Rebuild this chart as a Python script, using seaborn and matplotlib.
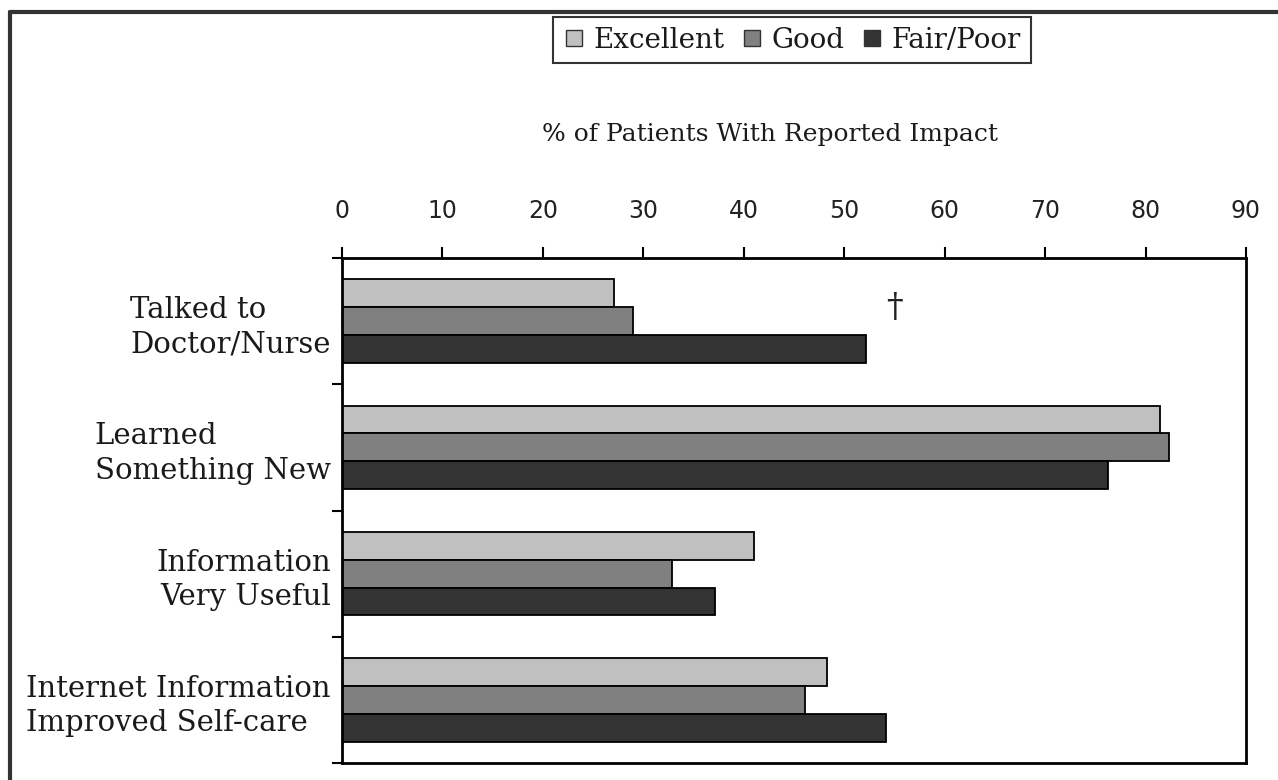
import matplotlib
matplotlib.use("Agg")
import matplotlib.pyplot as plt
import seaborn as sns
import pandas as pd
from matplotlib.lines import Line2D

categories = ["Talked to\nDoctor/Nurse", "Learned\nSomething New",
              "Information\nVery Useful", "Internet Information\nImproved Self-care"]
groups = ["Excellent", "Good", "Fair/Poor"]
excellent = [27.1, 81.4, 41.0, 48.3]
good = [29.0, 82.3, 32.9, 46.1]
fair_poor = [52.2, 76.3, 37.1, 54.2]
x_ticks = [0, 10, 20, 30, 40, 50, 60, 70, 80, 90]
axis_title = "% of Patients With Reported Impact"

colors = {"Excellent": "#c0c0c0", "Good": "#808080", "Fair/Poor": "#333333"}

rows = []
for g, vals in zip(groups, [excellent, good, fair_poor]):
    for c, v in zip(categories, vals):
        rows.append({"Category": c, "Group": g, "Value": v})
df = pd.DataFrame(rows)

sns.set_theme(style="white")
plt.rcParams["font.family"] = ["DejaVu Serif"]

W, H = 1278, 780
fig = plt.figure(figsize=(W / 100, H / 100), dpi=100)
fig.patch.set_facecolor("white")
ax = fig.add_axes([342 / W, 1 - 763 / H, (1246 - 342) / W, (763 - 258) / H])

sns.barplot(data=df, y="Category", x="Value", hue="Group", order=categories,
            hue_order=groups, palette=colors, orient="h", width=0.66,
            edgecolor="black", linewidth=1.3, saturation=1, ax=ax, legend=False)

ax.set_xlim(0, 90)
ax.set_ylim(3.5, -0.5)
ax.set_xlabel("")
ax.set_ylabel("")
ax.xaxis.tick_top()
ax.set_xticks(x_ticks)
ax.set_xticklabels([str(t) for t in x_ticks], fontsize=17, family="DejaVu Sans",
                   color="#222222")
ax.tick_params(axis="x", direction="out", length=8, width=1.5, pad=17, color="black",
               top=True, bottom=False)
ax.set_yticks(range(len(categories)))
ax.set_yticklabels(categories, fontsize=21, color="#1a1a1a", linespacing=1.3)
ax.set_yticks([-0.5, 0.5, 1.5, 2.5, 3.5], minor=True)
ax.tick_params(axis="y", which="major", length=0, pad=8)
ax.tick_params(axis="y", which="minor", length=7, width=1.5, color="black", left=True)
aligns = ["left", "left", "right", "left"]
for lab, al in zip(ax.get_yticklabels(), aligns):
    lab.set_multialignment(al)

for s in ax.spines.values():
    s.set_visible(True)
    s.set_color("black")
    s.set_linewidth(2)
ax.grid(False)

ax.text(55, -0.1, "\u2020", ha="center", va="center", fontsize=24, color="#222222")

fig.text(770 / W, 1 - 135 / H, axis_title, ha="center", va="center", fontsize=18,
         color="#1a1a1a")

handles = [Line2D([0], [0], marker="s", linestyle="none", markersize=12,
                  markerfacecolor=colors[g], markeredgecolor="#333333", markeredgewidth=1)
           for g in groups]
leg = fig.legend(handles, groups, loc="center", bbox_to_anchor=(792 / W, 1 - 40 / H),
                 ncol=3, frameon=True, fontsize=20, handlelength=0.8, handletextpad=0.3,
                 columnspacing=0.6, borderpad=0.35, fancybox=False)
leg.get_frame().set_edgecolor("black")
leg.get_frame().set_linewidth(1.5)
for t in leg.get_texts():
    t.set_color("#1a1a1a")

# outer frame (top and left edges)
fig.add_artist(Line2D([10 / W, 1.0], [1 - 12 / H, 1 - 12 / H], color="#333333", lw=3,
                      transform=fig.transFigure))
fig.add_artist(Line2D([10 / W, 10 / W], [0, 1 - 12 / H], color="#333333", lw=3,
                      transform=fig.transFigure))

fig.savefig("out.png", dpi=100, facecolor="white")
